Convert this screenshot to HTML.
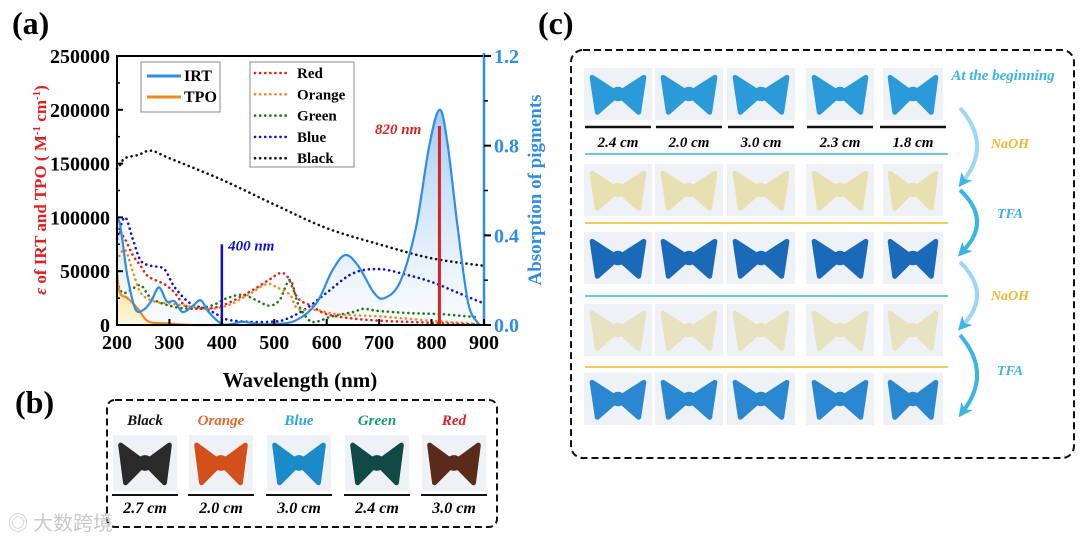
<!DOCTYPE html>
<html><head><meta charset="utf-8">
<style>
body{margin:0;background:#fff;width:1080px;height:543px;overflow:hidden;font-family:"Liberation Serif",serif;}
svg text{font-family:"Liberation Serif",serif;}
</style></head>
<body>
<svg id="fig" width="1080" height="543" viewBox="0 0 1080 543" xmlns="http://www.w3.org/2000/svg">
<defs>
<linearGradient id="irtFill" x1="0" y1="0" x2="0" y2="1"><stop offset="0" stop-color="#2f8fe8" stop-opacity="0.9"/><stop offset="1" stop-color="#e8f2fc" stop-opacity="0.5"/></linearGradient>
<linearGradient id="tpoFill" x1="0" y1="0" x2="0" y2="1"><stop offset="0" stop-color="#f8d870"/><stop offset="1" stop-color="#fff6d8"/></linearGradient>
<marker id="ah" markerUnits="userSpaceOnUse" markerWidth="14" markerHeight="14" refX="5" refY="7" orient="auto"><path d="M0,0 L14,7 L0,14 L4,7 z" fill="#3cb4e6"/></marker>
</defs>
<g id="chart"></g>
<g id="panelB"></g>
<g id="panelC"></g>
<text x="8" y="530" font-size="20" fill="#c8c8c8" font-family="Noto Sans CJK SC, sans-serif">◎ 大数跨境</text>
</svg>
<script>
const NS="http://www.w3.org/2000/svg";
// ---- chart data ----
const irtX=[200,205,210,220,235,250,265,280,295,310,325,345,360,375,400,420,440,470,500,540,580,610,635,660,690,710,740,770,795,815,830,850,870,890];
const irtY=[100000,95000,80000,45000,15000,14000,22000,35000,22000,22000,12000,18000,23000,12000,1000,1000,3000,1000,1000,4000,20000,50000,65000,55000,30000,25000,40000,90000,165000,200000,170000,90000,20000,1000];
const tpoX=[200,203,208,220,240,255,270,300,320,350,400];
const tpoY=[50000,35000,28000,25000,15000,5000,2000,1500,500,0,0];
const redX=[200,215,230,245,260,290,310,330,360,400,450,490,510,525,545,570,600,650,700,750,800,850,890];
const redY=[90000,80000,65000,55000,45000,38000,30000,18000,15000,18000,30000,42000,48000,45000,25000,18000,10000,6000,4000,3000,2000,1000,500];
const orangeX=[200,215,230,245,270,300,330,370,410,450,485,505,530,545,580,620,700,800,890];
const orangeY=[60000,70000,50000,30000,22000,20000,18000,15000,18000,28000,38000,35000,28000,15000,14000,10000,8000,4000,1000];
const greenX=[200,210,225,245,265,300,340,380,410,440,470,490,510,530,545,565,580,610,650,670,700,760,820,890];
const greenY=[40000,30000,32000,37000,25000,18000,15000,18000,25000,28000,22000,18000,23000,42000,20000,5000,3000,8000,12000,15000,13000,11000,10000,7000];
const blueX=[200,215,230,245,265,290,310,340,370,390,410,450,490,520,560,600,650,700,750,800,850,900];
const blueY=[80000,100000,80000,60000,55000,52000,35000,20000,15000,10000,5000,3000,3000,5000,15000,30000,48000,52000,47000,40000,30000,20000];
const blackX=[200,205,215,240,265,300,400,500,600,700,800,900];
const blackY=[145000,148000,155000,158000,162000,155000,135000,112000,90000,75000,62000,55000];
const leftTicks=[0,50000,100000,150000,200000,250000];
const rightTicks=["0.0","0.4","0.8","1.2"];
const xTicks=[200,300,400,500,600,700,800,900];
const X0=117,X1=484,Y0=325,Y1=56;
const sx=v=>X0+(v-200)/700*(X1-X0);
const sy=v=>Y0-v/250000*(Y0-Y1);
const sr=v=>Y0-v/1.2*(Y0-Y1);
const chart=document.getElementById('chart');
function el(tag,attrs,parent,txt){const e=document.createElementNS(NS,tag);for(const k in attrs)e.setAttribute(k,attrs[k]);if(txt!==undefined)e.textContent=txt;(parent||chart).appendChild(e);return e;}
function smooth(xs,ys){const p=xs.map((x,i)=>[sx(x),sy(ys[i])]);let d=`M${p[0][0]},${p[0][1]}`;for(let i=0;i<p.length-1;i++){const a=p[i-1]||p[i],b=p[i],c=p[i+1],e=p[i+2]||c;d+=` C${b[0]+(c[0]-a[0])/6},${b[1]+(c[1]-a[1])/6} ${c[0]-(e[0]-b[0])/6},${c[1]-(e[1]-b[1])/6} ${c[0]},${c[1]}`;}return d;}
let f=el('path',{d:smooth(irtX,irtY)+` L${sx(irtX[irtX.length-1])},${Y0} L${sx(200)},${Y0}Z`,fill:'url(#irtFill)',opacity:0.5});

f=el('path',{d:smooth(tpoX,tpoY)+` L${sx(400)},${Y0} L${sx(200)},${Y0}Z`,fill:'url(#tpoFill)',opacity:0.8});

const dotted=[['black',blackX,blackY,'#111'],['blue',blueX,blueY,'#1010cc'],['green',greenX,greenY,'#1a7a1a'],['orange',orangeX,orangeY,'#f08a20'],['red',redX,redY,'#e02020']];
dotted.forEach(s=>{const p=el('path',{d:smooth(s[1],s[2]),fill:'none',stroke:s[3],'stroke-width':2.6,'stroke-dasharray':'0.1 5','stroke-linecap':'round'});
});
let l=el('path',{d:smooth(tpoX,tpoY),fill:'none',stroke:'#f08a20','stroke-width':2.2});

l=el('path',{d:smooth(irtX,irtY),fill:'none',stroke:'#2e8de6','stroke-width':2.2});

l=el('line',{x1:sx(400),x2:sx(400),y1:Y0,y2:sy(75000),stroke:'#1010cc','stroke-width':2.5});

l=el('line',{x1:sx(815),x2:sx(815),y1:Y0,y2:sy(185000),stroke:'#e02020','stroke-width':3});

let t=el('text',{x:sx(412),y:sy(75000)+6,fill:'#1010cc','font-size':15,'font-weight':'bold','font-style':'italic'},chart,'400 nm');

t=el('text',{x:375,y:sy(185000)+8,fill:'#e02020','font-size':15,'font-weight':'bold','font-style':'italic'},chart,'820 nm');

l=el('rect',{x:X0,y:Y1,width:X1-X0,height:Y0-Y1,fill:'none',stroke:'#000','stroke-width':2});

l=el('line',{x1:X1,x2:X1,y1:Y1-3,y2:Y0,stroke:'#2e8de6','stroke-width':2.5});

leftTicks.forEach(v=>{const y=sy(v);
l=el('line',{x1:X0,x2:X0+6,y1:y,y2:y,stroke:'#000','stroke-width':2});

if(v<250000){const m=el('line',{x1:X0,x2:X0+3,y1:sy(v+25000),y2:sy(v+25000),stroke:'#000','stroke-width':1.5});}
t=el('text',{x:X0-7,y:y+7,'text-anchor':'end','font-size':20,'font-weight':'bold'},chart,String(v));
});
rightTicks.forEach(v=>{const y=sr(+v);
l=el('line',{x1:X1,x2:X1+7,y1:y,y2:y,stroke:'#000','stroke-width':2});

if(+v<1.2){const m=el('line',{x1:X1,x2:X1+4,y1:sr(+v+0.2),y2:sr(+v+0.2),stroke:'#000','stroke-width':1.5});}
t=el('text',{x:X1+10,y:y+7,'font-size':20,'font-weight':'bold',fill:'#2e8de6'},chart,v);
});
xTicks.forEach(v=>{const x=sx(v);
l=el('line',{x1:x,x2:x,y1:Y0,y2:Y0-6,stroke:'#000','stroke-width':2});

t=el('text',{x:x,y:Y0+24,'text-anchor':'middle','font-size':20,'font-weight':'bold'},chart,String(v));
});
</script>
<script>
function add(tag,attrs,parent,txt){const e=document.createElementNS(NS,tag);for(const k in attrs)e.setAttribute(k,attrs[k]);if(txt!==undefined)e.textContent=txt;parent.appendChild(e);return e;}
(function(){
const g=chart;
let t=add('text',{x:300,y:387,'text-anchor':'middle','font-size':21,'font-weight':'bold'},g,'Wavelength (nm)');

t=add('text',{transform:'translate(46,190) rotate(-90)','text-anchor':'middle','font-size':17,'font-weight':'bold',fill:'#e02020'},g);
t.innerHTML='<tspan font-style="italic">ε</tspan> of IRT and TPO ( M<tspan dy="-6" font-size="11">-1</tspan><tspan dy="6"> cm</tspan><tspan dy="-6" font-size="11">-1</tspan><tspan dy="6">)</tspan>';

t=add('text',{transform:'translate(541,190) rotate(-90)','text-anchor':'middle','font-size':19,'font-weight':'bold',fill:'#2e8de6'},g,'Absorption of pigments');

t=add('text',{x:12,y:34,'font-size':32,'font-weight':'bold'},g,'(a)');

let r=add('rect',{x:141,y:62,width:79,height:50,fill:'#fff',stroke:'#888','stroke-width':1},g);

[['IRT','#2e8de6',81],['TPO','#f08a20',102]].forEach(s=>{
let ln=add('line',{x1:147,x2:181,y1:s[2]-5,y2:s[2]-5,stroke:s[1],'stroke-width':3},g);

let tx=add('text',{x:184,y:s[2],'font-size':16,'font-weight':'bold'},g,s[0]);
});
r=add('rect',{x:250,y:62,width:104,height:105,fill:'#fff',stroke:'#888','stroke-width':1},g);

[['Red','#e02020'],['Orange','#f08a20'],['Green','#1a7a1a'],['Blue','#1010cc'],['Black','#111']].forEach((s,i)=>{
const y=78+i*21.3;
let ln=add('line',{x1:255,x2:288,y1:y-5,y2:y-5,stroke:s[1],'stroke-width':2.6,'stroke-dasharray':'0.1 5','stroke-linecap':'round'},g);

let tx=add('text',{x:297,y:y,'font-size':15,'font-weight':'bold'},g,s[0]);
});
})();
function bow(parent,cx,cy,w,h,col,name){
const g=add('g',{},parent);

add('rect',{x:cx-w/2,y:cy-h/2,width:w,height:h,fill:'#eef2f6'},g);
const a=w*0.38,b=h*0.32;
add('path',{d:`M${cx},${cy} L${cx-a},${cy-b} L${cx-a*0.8},${cy+b*1.1} Z M${cx},${cy} L${cx+a},${cy-b} L${cx+a*0.8},${cy+b*1.1} Z`,fill:col,stroke:col,'stroke-width':5,'stroke-linejoin':'round'},g);
add('circle',{cx:cx,cy:cy,r:h*0.14,fill:col},g);
}
(function(){
const g=document.getElementById('panelB');
let t=add('text',{x:15,y:413,'font-size':32,'font-weight':'bold'},g,'(b)');

let r=add('rect',{x:107,y:400,width:390,height:127,rx:8,fill:'none',stroke:'#111','stroke-width':2,'stroke-dasharray':'7 4'},g);

const items=[['Black','#111','#2a2a2a','2.7 cm',145],['Orange','#e06a2a','#d4501a','2.0 cm',221],['Blue','#2aa8e0','#1a8ac8','3.0 cm',299],['Green','#1a9a7a','#0f4a46','2.4 cm',377],['Red','#e02020','#5a2a1a','3.0 cm',454]];
items.forEach(s=>{
let tx=add('text',{x:s[4],y:425,'text-anchor':'middle','font-size':15,'font-weight':'bold','font-style':'italic',fill:s[1]},g,s[0]);

bow(g,s[4],463,64,56,s[2],'sample-photo-'+s[0].toLowerCase());
let ln=add('line',{x1:s[4]-33,x2:s[4]+33,y1:495,y2:495,stroke:'#111','stroke-width':2},g);

tx=add('text',{x:s[4],y:513,'text-anchor':'middle','font-size':16,'font-weight':'bold','font-style':'italic'},g,s[3]);
});
})();
(function(){
const g=document.getElementById('panelC');
let t=add('text',{x:538,y:34,'font-size':32,'font-weight':'bold'},g,'(c)');

let r=add('rect',{x:571,y:50,width:503,height:408,rx:12,fill:'none',stroke:'#111','stroke-width':2,'stroke-dasharray':'7 4'},g);

const cols=[618,689,761,840,913],sizes=['2.4 cm','2.0 cm','3.0 cm','2.3 cm','1.8 cm'];
const rows=[[94,'#2a9ad8'],[190,'#e8e0b0'],[258,'#1a6ab8'],[330,'#e8e2c0'],[399,'#2a88d0']];
rows.forEach((rw,i)=>cols.forEach((cx,j)=>bow(g,cx,rw[0],j===4?60:68,52,rw[1],'sample-photo-r'+(i+1)+'c'+(j+1))));
cols.forEach((cx,j)=>{
let ln=add('line',{x1:cx-33,x2:cx+33,y1:127,y2:127,stroke:'#111','stroke-width':2.5},g);

let tx=add('text',{x:cx,y:147,'text-anchor':'middle','font-size':15,'font-weight':'bold','font-style':'italic'},g,sizes[j]);
});
[[154,'#3cb4e6'],[223,'#f0b830'],[296,'#3cb4e6'],[367,'#f0b830']].forEach(s=>{
let ln=add('line',{x1:585,x2:948,y1:s[0],y2:s[0],stroke:s[1],'stroke-width':1.6},g);
});
t=add('text',{x:1003,y:80,'text-anchor':'middle','font-size':15,'font-weight':'bold','font-style':'italic',fill:'#3cb4e6'},g,'At the beginning');

[[0,108,180,'NaOH','#f0b830',148],[0,190,250,'TFA','#3cb4e6',218],[0,262,324,'NaOH','#f0b830',300],[0,335,410,'TFA','#3cb4e6',375]].forEach((s,i)=>{
let p=add('path',{d:`M960,${s[1]} Q992,${(s[1]+s[2])/2} 964,${s[2]}`,fill:'none',stroke:i%2?'#3cb4e6':'#9ad8f4','stroke-width':4,'marker-end':'url(#ah)'},g);

let tx=add('text',{x:1010,y:s[5],'text-anchor':'middle','font-size':14,'font-weight':'bold','font-style':'italic',fill:s[4]},g,s[3]);
});
})();
</script>
</body></html>
